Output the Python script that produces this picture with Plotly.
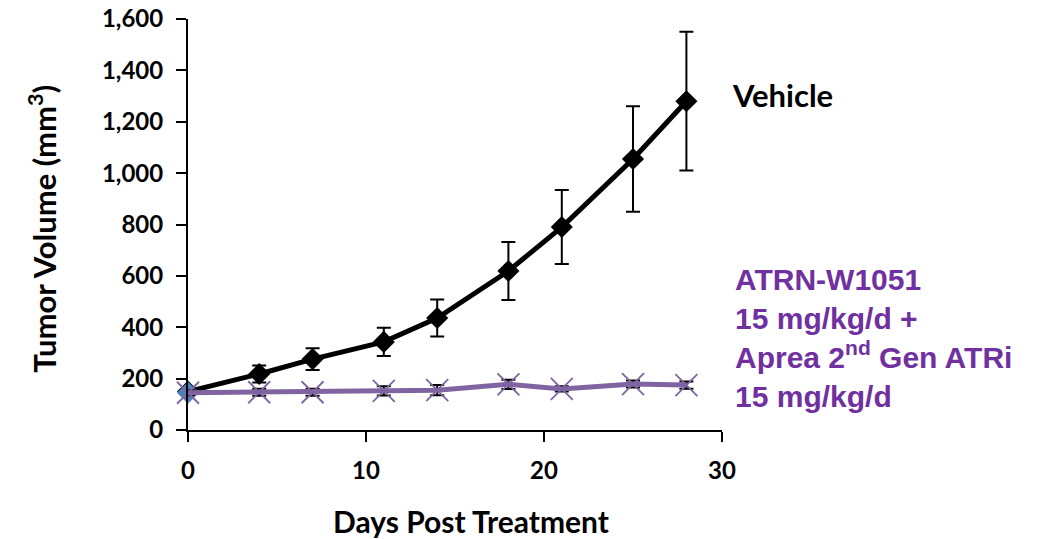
import plotly.graph_objects as go

days = [0, 4, 7, 11, 14, 18, 21, 25, 28]
vehicle = [150, 218, 276, 343, 436, 619, 790, 1055, 1280]
vehicle_err = [12, 33, 42, 55, 72, 113, 144, 205, 270]
combo = [145, 147, 147, 152, 155, 178, 160, 179, 175]
combo_err = [10, 14, 14, 18, 20, 18, 10, 14, 14]

x_ticks = [0, 10, 20, 30]
y_ticks = [0, 200, 400, 600, 800, 1000, 1200, 1400, 1600]

tick_font = dict(family="Lato, Open Sans, sans-serif", size=24, color="black", weight="bold")
title_font = dict(family="Lato, Open Sans, sans-serif", size=30, color="black")
purple = "#8064A2"
label_purple = "#7030A0"

fig = go.Figure()

fig.add_trace(go.Scatter(
    x=days, y=vehicle, mode="lines+markers",
    line=dict(color="black", width=5),
    marker=dict(symbol="diamond", size=17, color="black"),
    error_y=dict(type="data", array=vehicle_err, color="black", thickness=2, width=7),
    cliponaxis=False, showlegend=False,
))

fig.add_trace(go.Scatter(
    x=[days[0]], y=[combo[0]], mode="markers",
    marker=dict(symbol="diamond", size=17, color="#4F81BD"),
    cliponaxis=False, showlegend=False,
))

fig.add_trace(go.Scatter(
    x=days, y=combo, mode="lines+markers",
    line=dict(color=purple, width=5),
    marker=dict(symbol="x-thin", size=22, color=purple, line=dict(color=purple, width=1.8)),
    error_y=dict(type="data", array=combo_err, color="black", thickness=2, width=7),
    cliponaxis=False, showlegend=False,
))

fig.add_annotation(x=1.015, y=1304, xref="paper", yref="y",
                   text="<b>Vehicle</b>", showarrow=False, xanchor="left", yanchor="middle",
                   font=dict(family="Lato, Open Sans, sans-serif", size=31, color="black"))

fig.add_annotation(x=1.02, y=358, xref="paper", yref="y",
                   text="<b>ATRN-W1051<br>15 mg/kg/d +<br>Aprea 2<sup>nd</sup> Gen ATRi<br>15 mg/kg/d</b>",
                   showarrow=False, xanchor="left", yanchor="middle", align="left",
                   font=dict(family="Liberation Sans, Arial, sans-serif", size=30, color=label_purple))

fig.add_annotation(x=0.53, y=-0.222, xref="paper", yref="paper",
                   text="<b>Days Post Treatment</b>", showarrow=False,
                   xanchor="center", yanchor="middle", font=title_font)

fig.add_annotation(x=-0.2715, y=0.49, xref="paper", yref="paper",
                   text="<b>Tumor Volume (mm<sup>3</sup>)</b>", showarrow=False, textangle=-90,
                   xanchor="center", yanchor="middle",
                   font=dict(family="Lato, Open Sans, sans-serif", size=31, color="black"))

fig.update_xaxes(
    range=[0, 30], tickvals=x_ticks, ticks="outside", ticklen=10, tickwidth=2,
    tickcolor="black", showline=True, linecolor="black", linewidth=2,
    showgrid=False, zeroline=False, tickfont=tick_font, automargin=False,
    ticklabelstandoff=8,
)
fig.update_yaxes(
    range=[0, 1600], tickvals=y_ticks, tickformat=",", ticks="outside", ticklen=10, tickwidth=2,
    tickcolor="black", showline=True, linecolor="black", linewidth=2,
    showgrid=False, zeroline=False, tickfont=tick_font, automargin=False,
    ticklabelstandoff=8,
)

fig.update_layout(
    width=1048, height=539,
    margin=dict(l=188, r=326, t=19, b=109),
    plot_bgcolor="white", paper_bgcolor="white",
    font=dict(family="Lato, Open Sans, sans-serif", color="black"),
)

fig.write_html("out.html")
